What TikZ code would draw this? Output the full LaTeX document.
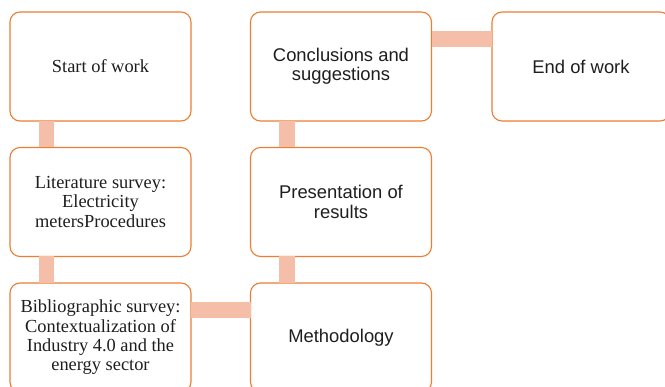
\documentclass[tikz,border=0pt]{standalone}
\usepackage{fontspec}
\setmainfont{Liberation Serif}
\newfontfamily\arialfont{Liberation Sans}
\definecolor{boxline}{HTML}{ED7D31}
\definecolor{linkfill}{HTML}{F5BEA8}
\definecolor{inktext}{HTML}{1E1E1E}
\tikzset{
  stepbox/.style={draw=boxline, line width=1.1pt, fill=white, rounded corners=10pt,
    minimum width=181pt, minimum height=109pt, inner sep=0pt, outer sep=0pt,
    align=center, text=inktext, font=\fontsize{18.4}{19.4}\selectfont},
  sansbox/.style={stepbox, font=\arialfont\fontsize{18.4}{19.4}\selectfont},
  link/.style={draw=linkfill, line width=15.5pt, line cap=butt}
}
\begin{document}
\begin{tikzpicture}[x=1pt, y=-1pt]
\useasboundingbox (0,0) rectangle (665,387);
\clip (0,0) rectangle (665,387);
\fill[white] (0,0) rectangle (665,387);

% left column (serif)
\node[stepbox] (start) at (100.5,66.5) {Start of work};
\node[stepbox] (lit) at (100.5,202) {Literature survey:\\Electricity\\metersProcedures};
\node[stepbox] (bib) at (100.5,337.5) {Bibliographic survey:\\Contextualization of\\Industry 4.0 and the\\energy sector};

% middle column (sans)
\node[sansbox] (meth) at (341,337.5) {Methodology};
\node[sansbox] (pres) at (341,202) {Presentation of\\results};
\node[sansbox] (conc) at (341,66.5) {Conclusions and\\suggestions};

% right column
\node[sansbox, minimum width=178pt] (end) at (581,66.5) {End of work};

% connectors between consecutive steps
\draw[link] ([xshift=36.5pt]start.south west) -- ([xshift=36.5pt]lit.north west);
\draw[link] ([xshift=36.5pt]lit.south west) -- ([xshift=36.5pt]bib.north west);
\draw[link] ([yshift=-27pt]bib.north east) -- ([yshift=-27pt]meth.north west);
\draw[link] ([xshift=36.5pt]meth.north west) -- ([xshift=36.5pt]pres.south west);
\draw[link] ([xshift=36.5pt]pres.north west) -- ([xshift=36.5pt]conc.south west);
\draw[link] ([yshift=-27pt]conc.north east) -- ([yshift=-27pt]end.north west);
\end{tikzpicture}
\end{document}
